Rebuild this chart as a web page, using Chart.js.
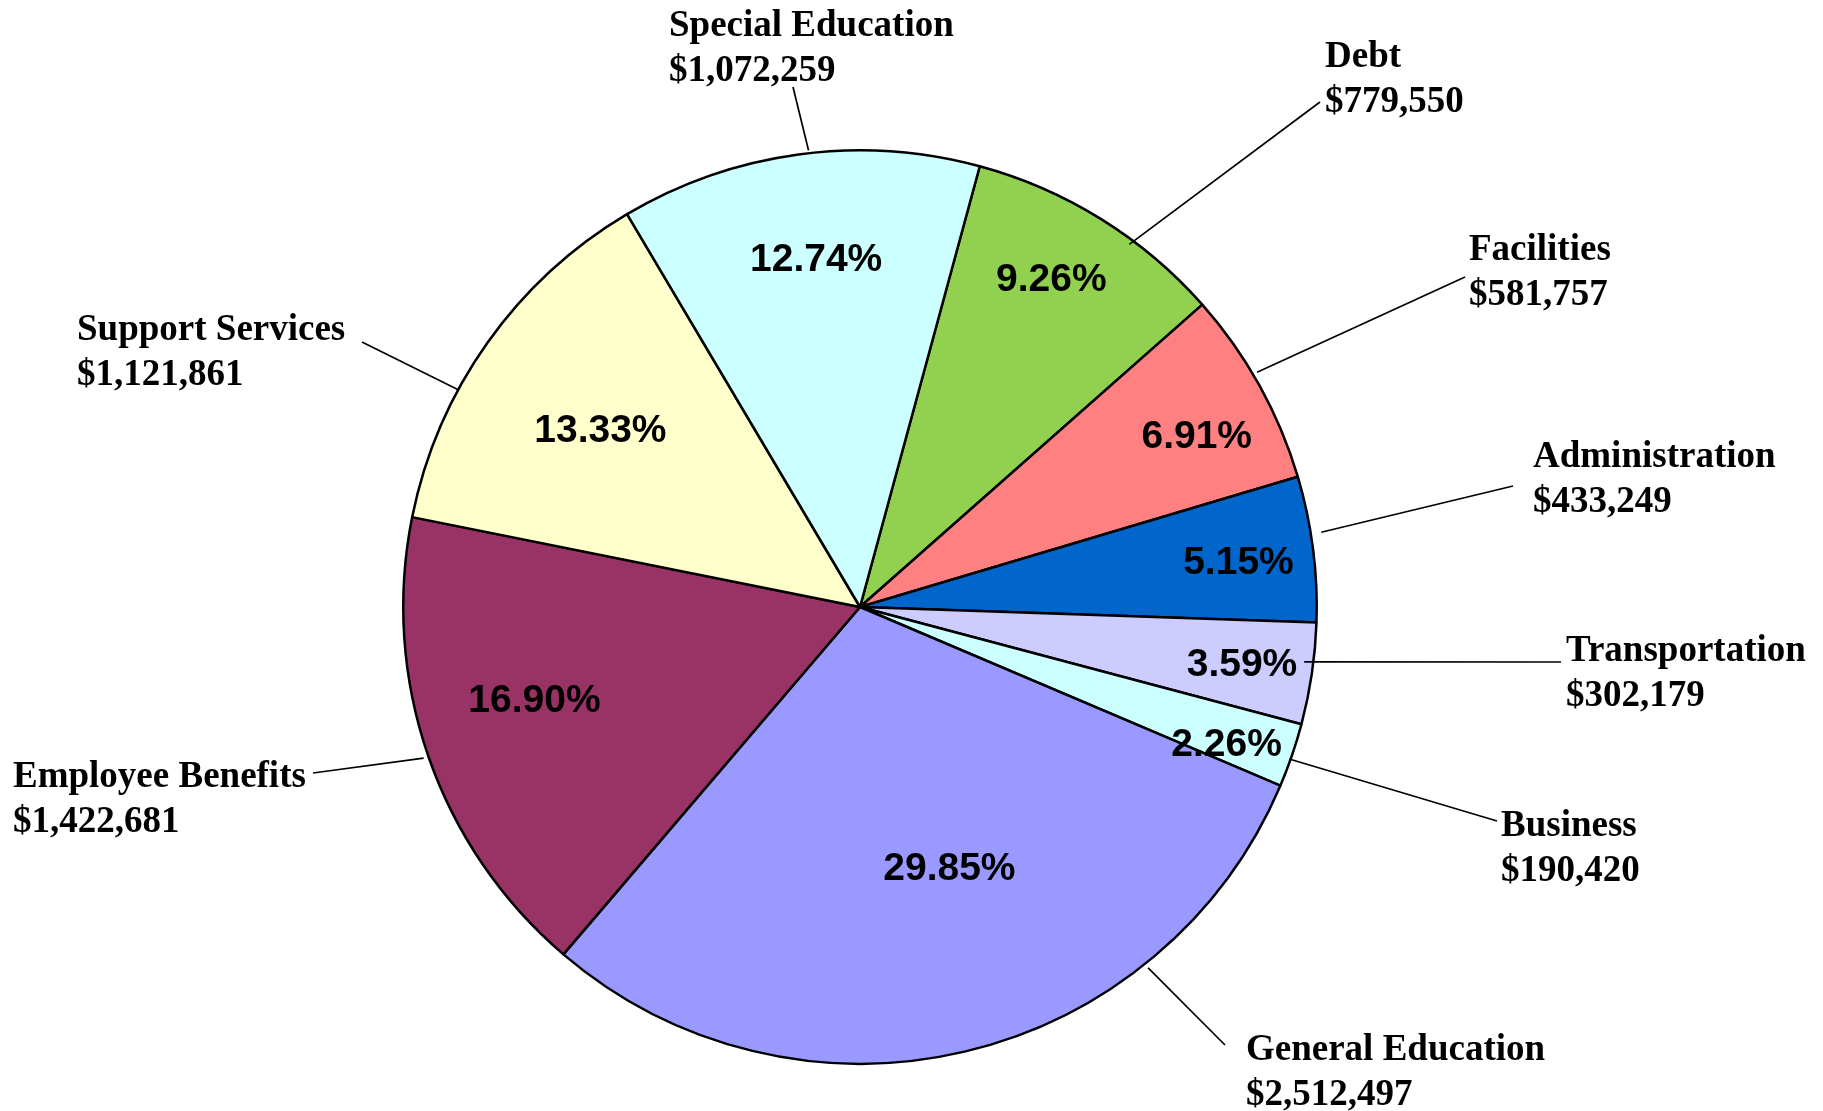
<!DOCTYPE html>
<html>
<head>
<meta charset="utf-8">
<script src="https://cdn.jsdelivr.net/npm/chart.js@4/dist/chart.umd.min.js"></script>
<style>
  html, body { margin: 0; padding: 0; background: #ffffff; }
  #wrap { width: 1823px; height: 1111px; }
</style>
</head>
<body>
<div id="wrap"><canvas id="c" width="1823" height="1111"></canvas></div>
<script>
// ---- data ----
const categories = ["Debt", "Facilities", "Administration", "Transportation", "Business",
                    "General Education", "Employee Benefits", "Support Services", "Special Education"];
const amounts = [779550, 581757, 433249, 302179, 190420, 2512497, 1422681, 1121861, 1072259];

// ---- styles ----
const sliceColors = ["#92D050", "#FF8080", "#0066CC", "#CCCCFF", "#CCFFFF",
                     "#9999FF", "#993366", "#FFFFCC", "#CCFFFF"];

// ---- label layout (not data) ----
// percent labels: radius fraction of outer radius, angle offset (deg) from slice middle
const pctLayout = [
  [0.836, -1.8], [0.829, 1.8], [0.835, 0.2], [0.845, -0.2], [0.855, 1.2],
  [0.60, -5.8], [0.74, 3.5], [0.69, -0.8], [0.773, 0.6]
];
// outside labels: text left x, first baseline y
const textLayout = [
  [1325, 67], [1469, 260], [1533, 467], [1566, 661], [1501, 836],
  [1246, 1060], [13, 787], [77, 340], [669, 36]
];
// leader lines: inner end (angle deg from top, radius fraction), outer end (x, y)
const leaderLayout = [
  [36.6, 0.989, 1320, 102], [59.4, 1.01, 1465, 277], [80.8, 1.023, 1513, 486],
  [97.05, 0.98, 1561, 662], [109.5, 0.997, 1497, 821], [141.4, 1.011, 1225, 1045],
  [250.9, 1.011, 313, 773], [298.4, 1.0, 362, 342], [353.57, 1.006, 793, 87]
];

const total = amounts.reduce((a, b) => a + b, 0);
const fmtMoney = v => "$" + v.toLocaleString("en-US");

const labelPlugin = {
  id: "labels",
  afterDatasetsDraw(chart) {
    const ctx = chart.ctx;
    const arcs = chart.getDatasetMeta(0).data;
    ctx.save();
    arcs.forEach((arc, i) => {
      const cx = arc.x, cy = arc.y, R = arc.outerRadius;
      // percent label
      const mid = (arc.startAngle + arc.endAngle) / 2 + pctLayout[i][1] * Math.PI / 180;
      const pr = R * pctLayout[i][0];
      const px = cx + Math.cos(mid) * pr;
      const py = cy + Math.sin(mid) * pr;
      ctx.fillStyle = "#000";
      ctx.font = "bold 39px 'Liberation Sans', Arial, sans-serif";
      ctx.textAlign = "center";
      ctx.textBaseline = "alphabetic";
      ctx.fillText((amounts[i] / total * 100).toFixed(2) + "%", px, py + 14);
      // leader line
      const L = leaderLayout[i];
      const a = L[0] * Math.PI / 180 - Math.PI / 2;
      const lx = cx + Math.cos(a) * R * L[1];
      const ly = cy + Math.sin(a) * R * L[1];
      ctx.strokeStyle = "#000";
      ctx.lineWidth = 1.7;
      ctx.beginPath();
      ctx.moveTo(lx, ly);
      ctx.lineTo(L[2], L[3]);
      ctx.stroke();
      // category text
      const T = textLayout[i];
      ctx.font = "bold 37px 'Liberation Serif', 'Times New Roman', serif";
      ctx.textAlign = "left";
      ctx.fillText(categories[i], T[0], T[1]);
      ctx.fillText(fmtMoney(amounts[i]), T[0], T[1] + 44.5);
    });
    ctx.restore();
  }
};

new Chart(document.getElementById("c"), {
  type: "pie",
  data: {
    labels: categories,
    datasets: [{
      data: amounts,
      backgroundColor: sliceColors,
      borderColor: "#000000",
      borderWidth: 2.5
    }]
  },
  options: {
    responsive: false,
    animation: false,
    rotation: 15.2,
    layout: { padding: { left: 402, top: 149, right: 505, bottom: 46 } },
    plugins: {
      legend: { display: false },
      tooltip: { enabled: false },
      title: { display: false }
    }
  },
  plugins: [labelPlugin]
});
</script>
</body>
</html>
